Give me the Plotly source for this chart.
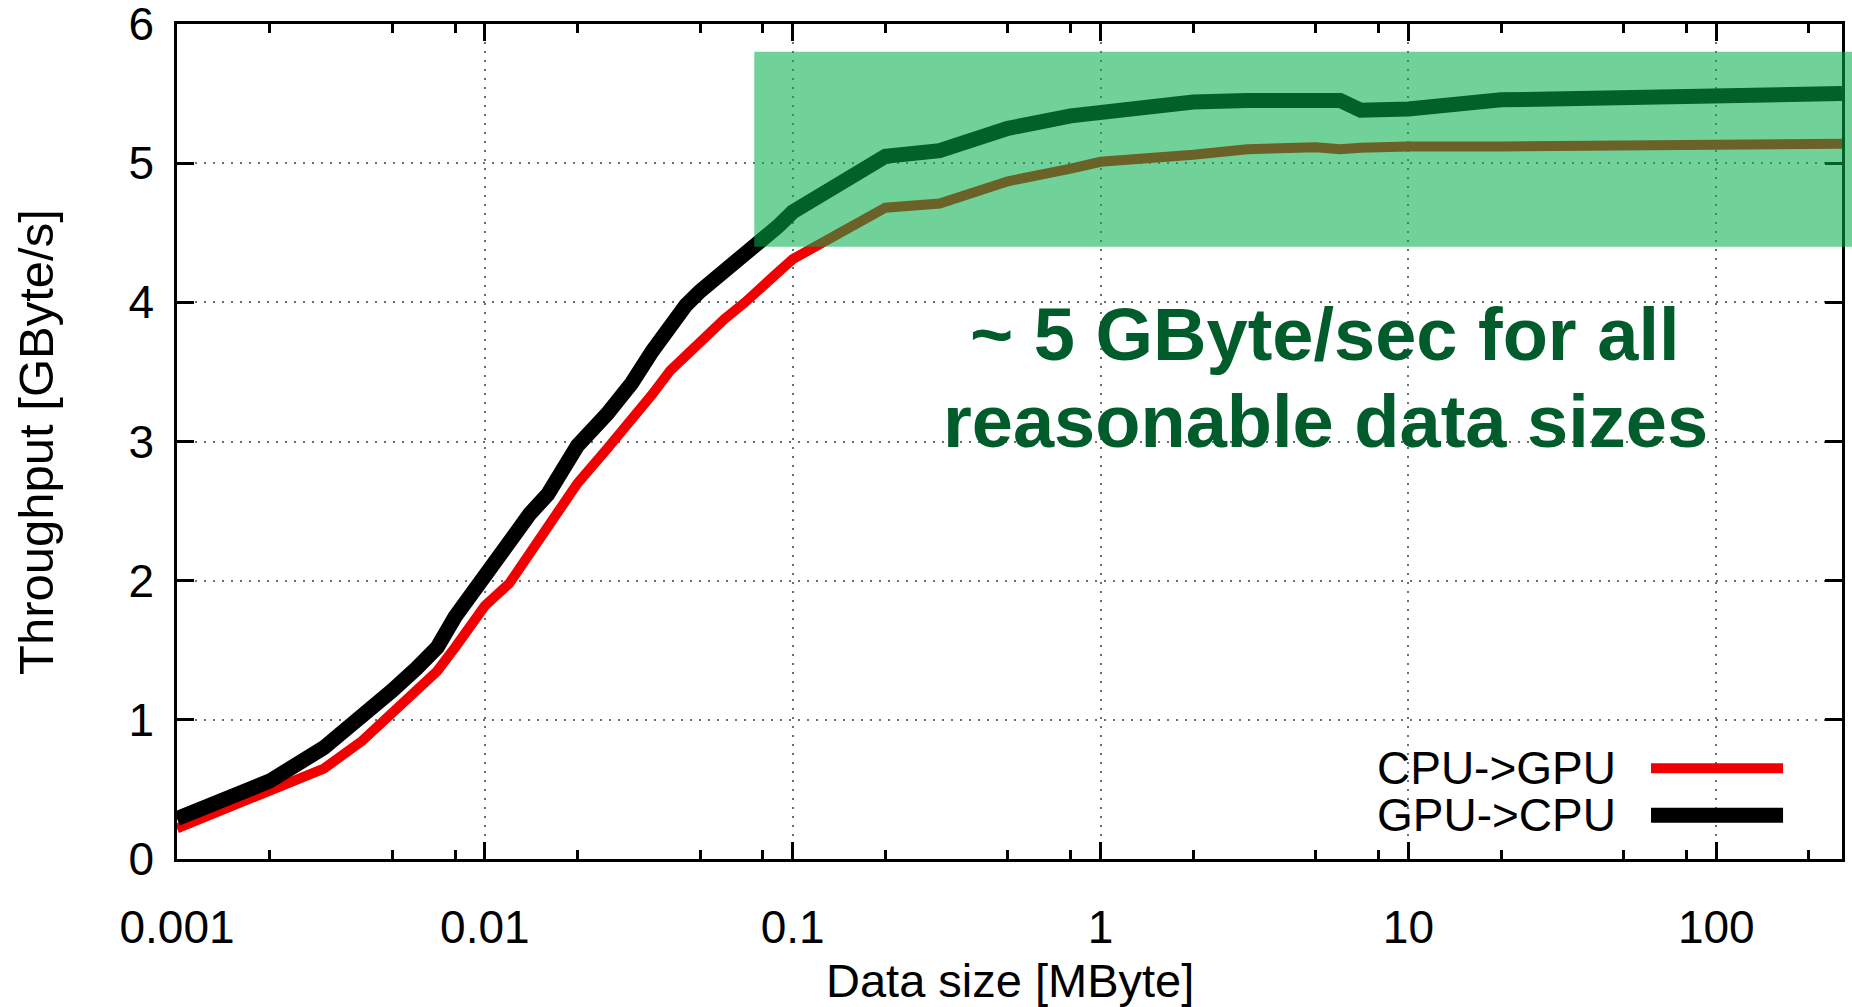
import math
import plotly.graph_objects as go

# Transfer size in MByte
sizes_mb = [0.001, 0.002, 0.003, 0.004, 0.005, 0.006, 0.007, 0.008, 0.009, 0.010,
            0.012, 0.014, 0.016, 0.018, 0.020, 0.025, 0.030, 0.035, 0.040, 0.045,
            0.050, 0.060, 0.070, 0.080, 0.090, 0.1, 0.2, 0.3, 0.5, 0.8,
            1, 2, 3, 5, 6, 7, 10, 20, 50, 100, 256]

# Measured throughput in GByte/s
cpu_to_gpu = [0.22, 0.48, 0.65, 0.85, 1.04, 1.20, 1.35, 1.52, 1.68, 1.82,
              1.98, 2.19, 2.385, 2.55, 2.70, 2.95, 3.15, 3.34, 3.51, 3.62,
              3.73, 3.88, 4.00, 4.13, 4.22, 4.31, 4.68, 4.71, 4.87, 4.96,
              5.01, 5.06, 5.10, 5.115, 5.10, 5.11, 5.12, 5.12, 5.13, 5.13, 5.14]
gpu_to_cpu = [0.29, 0.56, 0.80, 1.02, 1.21, 1.37, 1.52, 1.74, 1.90, 2.06,
              2.31, 2.48, 2.62, 2.79, 2.97, 3.20, 3.42, 3.65, 3.84, 3.98,
              4.08, 4.22, 4.36, 4.45, 4.55, 4.65, 5.05, 5.09, 5.25, 5.34,
              5.37, 5.44, 5.45, 5.46, 5.45, 5.38, 5.39, 5.455, 5.48, 5.49, 5.50]

series_names = ["CPU->GPU", "GPU->CPU"]
series_colors = ["#f20000", "#000000"]
series_widths = [10, 15]

x_tick_vals = [0.001, 0.01, 0.1, 1, 10, 100]
x_tick_text = ["0.001", "0.01", "0.1", "1", "10", "100"]
x_minor_vals = [m * 10.0 ** d for d in range(-3, 3) for m in (2, 5, 8) if m * 10.0 ** d <= 256]
y_tick_vals = [0, 1, 2, 3, 4, 5, 6]

# highlighted plateau region
band_x_start = 0.075
band_y = [4.4, 5.8]
note_lines = ["~ 5 GByte/sec for all", "reasonable data sizes"]

FONT = "Liberation Sans, Arial, Helvetica, sans-serif"
x_range = [-3, math.log10(256)]

fig = go.Figure()
for name, color, width, values in zip(series_names, series_colors, series_widths,
                                      [cpu_to_gpu, gpu_to_cpu]):
    fig.add_trace(go.Scatter(x=sizes_mb, y=values, mode="lines", name=name,
                             line=dict(color=color, width=width), showlegend=False))

axis_common = dict(
    showline=True, linewidth=2.5, linecolor="black", mirror="ticks",
    ticks="inside", ticklen=17, tickwidth=2.5, tickcolor="black",
    showgrid=True, gridcolor="#6e6e6e", gridwidth=1.5, griddash="2px,7px",
    zeroline=False, tickfont=dict(family=FONT, size=46, color="black"),
    ticklabeloverflow="allow", automargin=False,
)

fig.update_xaxes(type="log", range=x_range, tickmode="array",
                 tickvals=x_tick_vals, ticktext=x_tick_text,
                 ticklabelstandoff=26,
                 minor=dict(tickmode="array", tickvals=x_minor_vals, ticks="inside",
                            ticklen=9, tickwidth=2.5, tickcolor="black", showgrid=False),
                 **axis_common)
fig.update_yaxes(range=[0, 6], tickmode="array", tickvals=y_tick_vals,
                 ticklabelstandoff=11, **axis_common)

# green band across the plateau, reaching past the right border
span = x_range[1] - x_range[0]
band_x0 = (math.log10(band_x_start) - x_range[0]) / span
fig.add_shape(type="rect", xref="paper", yref="y", x0=band_x0, x1=1.01,
              y0=band_y[0], y1=band_y[1], line=dict(width=0),
              fillcolor="rgba(0,175,73,0.56)", layer="above")

annotations = [
    dict(text=note_lines[0], x=0.6895, y=0.628, xref="paper", yref="paper",
         xanchor="center", yanchor="middle", showarrow=False,
         font=dict(family=FONT, size=74, color="#005c2a", weight="bold")),
    dict(text=note_lines[1], x=0.6895, y=0.524, xref="paper", yref="paper",
         xanchor="center", yanchor="middle", showarrow=False,
         font=dict(family=FONT, size=74, color="#005c2a", weight="bold")),
    dict(text="Data size [MByte]", x=0.5, y=-0.146, xref="paper", yref="paper",
         xanchor="center", yanchor="middle", showarrow=False,
         font=dict(family=FONT, size=47, color="black")),
    dict(text="Throughput [GByte/s]", x=-0.085, y=0.5, xref="paper", yref="paper",
         xanchor="center", yanchor="middle", showarrow=False, textangle=-90,
         font=dict(family=FONT, size=49, color="black")),
]

# key: label on the left, line sample on the right
key_rows_y = [0.1087, 0.0524]
for name, color, ky, lw in zip(series_names, series_colors, key_rows_y, series_widths):
    annotations.append(dict(text=name, x=0.8655, y=ky, xref="paper", yref="paper",
                            xanchor="right", yanchor="middle", showarrow=False,
                            font=dict(family=FONT, size=46, color="black")))
    fig.add_shape(type="line", xref="paper", yref="paper", x0=0.8853, x1=0.9646,
                  y0=ky, y1=ky, line=dict(color=color, width=lw))

fig.update_layout(
    width=1852, height=1007,
    margin=dict(l=177, r=10, t=24, b=148),
    paper_bgcolor="white", plot_bgcolor="white",
    annotations=annotations, showlegend=False,
)

fig.write_html("out.html")
